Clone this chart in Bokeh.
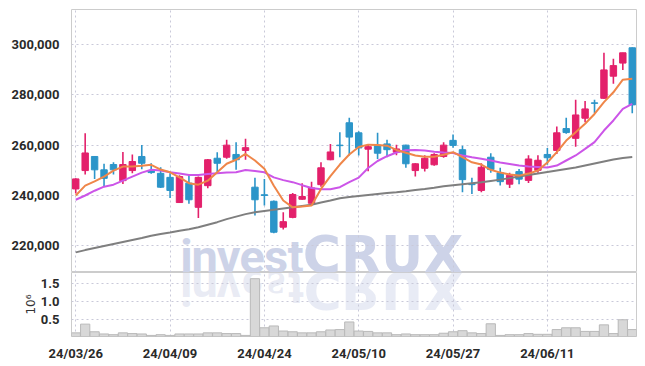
import math
from bokeh.plotting import figure
from bokeh.layouts import column
from bokeh.models import ColumnDataSource, FixedTicker, Range1d, NumeralTickFormatter
from bokeh.core.properties import value
from bokeh.embed import file_html
from bokeh.resources import INLINE

dates = ["24/03/26", "24/03/27", "24/03/28", "24/03/29", "24/04/01", "24/04/02", "24/04/03", "24/04/04",
         "24/04/05", "24/04/08", "24/04/09", "24/04/11", "24/04/12", "24/04/15", "24/04/16", "24/04/17",
         "24/04/18", "24/04/19", "24/04/22", "24/04/23", "24/04/24", "24/04/25", "24/04/26", "24/04/29",
         "24/04/30", "24/05/02", "24/05/03", "24/05/07", "24/05/08", "24/05/09", "24/05/10", "24/05/13",
         "24/05/14", "24/05/16", "24/05/17", "24/05/20", "24/05/21", "24/05/22", "24/05/23", "24/05/24",
         "24/05/27", "24/05/28", "24/05/29", "24/05/30", "24/05/31", "24/06/03", "24/06/04", "24/06/05",
         "24/06/07", "24/06/10", "24/06/11", "24/06/12", "24/06/13", "24/06/14", "24/06/17", "24/06/18",
         "24/06/19", "24/06/20", "24/06/21", "24/06/24"]

opens = [242600, 249900, 255500, 250200, 252300, 245900, 249900, 255500, 249900, 248800,
         247200, 237200, 244900, 235300, 243900, 254800, 255200, 256300, 257900, 243300,
         240300, 237700, 227400, 231300, 238500, 236900, 244300, 254200, 260000, 268900,
         264900, 258400, 260000, 260500, 257200, 260000, 249900, 250800, 252200, 255500,
         261900, 258200, 244500, 242000, 255200, 249000, 244500, 249500, 246000, 250000,
         256300, 257900, 266600, 262700, 270700, 276800, 278600, 287400, 292600, 298700]
highs = [246800, 264700, 255600, 252600, 253200, 257300, 256300, 260100, 252800, 251200,
         248800, 248000, 248200, 247500, 254500, 257200, 262100, 261200, 262500, 247000,
         246600, 238000, 233300, 241000, 244900, 245500, 253200, 260500, 265100, 270900,
         265500, 260200, 264900, 262100, 260200, 260200, 252800, 256000, 256800, 261200,
         264200, 259800, 247000, 252800, 256800, 251000, 249000, 250500, 256000, 256000,
         258900, 267400, 270900, 278000, 277500, 278000, 296700, 294300, 296700, 298800]
lows = [240800, 248300, 246600, 243500, 248300, 244600, 248800, 250400, 248600, 243000,
        239000, 237000, 236700, 231100, 242900, 248800, 254600, 250200, 254200, 232000,
        236000, 225000, 226500, 231000, 238300, 236700, 243500, 254000, 255200, 255900,
        255900, 249600, 254500, 255200, 256000, 251000, 247500, 249500, 251800, 255000,
        259000, 241300, 240600, 241300, 249000, 244000, 243000, 244500, 245000, 249000,
        252200, 256500, 264500, 259400, 269100, 272700, 278400, 284400, 289900, 272700]
closes = [246600, 256900, 250200, 246800, 250200, 252300, 253500, 252800, 249100, 243300,
          242000, 247500, 238300, 247200, 254200, 252800, 260000, 254200, 259000, 238300,
          240000, 225400, 229600, 240400, 239600, 243000, 251000, 257300, 259800, 263200,
          258900, 259400, 256800, 258200, 258500, 252600, 252600, 254800, 256300, 260000,
          259900, 246300, 244300, 251200, 250300, 245500, 248000, 246500, 254500, 254000,
          255000, 264900, 265000, 272000, 274400, 276600, 289900, 291600, 296700, 276000]
volumes = [0.14, 0.38, 0.17, 0.11, 0.09, 0.14, 0.12, 0.11, 0.07, 0.09,
           0.07, 0.11, 0.11, 0.11, 0.14, 0.14, 0.12, 0.12, 0.07, 1.63,
           0.28, 0.33, 0.19, 0.17, 0.14, 0.14, 0.17, 0.22, 0.23, 0.44,
           0.19, 0.18, 0.14, 0.14, 0.09, 0.11, 0.09, 0.09, 0.09, 0.13,
           0.17, 0.20, 0.14, 0.12, 0.39, 0.07, 0.09, 0.09, 0.12, 0.10,
           0.10, 0.23, 0.28, 0.28, 0.18, 0.18, 0.36, 0.12, 0.50, 0.23]
ma5 = [240000, 243900, 245600, 247500, 249900, 251500, 251500, 251800, 252200, 250300,
       249200, 247200, 244900, 244300, 245900, 249200, 252600, 254200, 256500, 253900,
       250600, 243900, 238000, 235300, 235600, 236000, 242600, 247700, 252300, 256300,
       259300, 260200, 260100, 259800, 258100, 257000, 255900, 255400, 255400, 256200,
       257200, 255200, 253200, 252300, 250200, 249100, 248300, 247900, 248700, 249900,
       253100, 257200, 261800, 265100, 268500, 272400, 277100, 281000, 286000, 286400]
ma20 = [238300, 240000, 241900, 243500, 244300, 245900, 247500, 249100, 250200, 249900,
        249200, 248700, 248100, 248100, 248500, 248800, 249100, 249200, 250100, 249700,
        249200, 247200, 246100, 245300, 244100, 243000, 242500, 242500, 243300, 245300,
        247100, 250900, 253700, 255600, 257100, 258000, 258100, 257900, 257400, 257100,
        256900, 255900, 255200, 254600, 253900, 253100, 252500, 251900, 251500, 251300,
        251100, 251900, 253900, 255900, 258500, 261200, 265800, 269800, 274400, 276400]
ma60 = [217400, 218300, 219100, 219900, 220700, 221500, 222300, 223100, 224000, 224700,
        225300, 226000, 226600, 227400, 228400, 229400, 230600, 231600, 232600, 233300,
        233800, 234300, 234800, 235300, 235800, 236300, 237200, 238000, 238900, 239400,
        239800, 240200, 240600, 241000, 241300, 241700, 242200, 242600, 243100, 243700,
        244100, 244500, 244900, 245300, 245800, 246300, 246900, 247500, 248100, 248700,
        249300, 249900, 250500, 251100, 251900, 252700, 253500, 254300, 254900, 255300]
price_ticks = [220000, 240000, 260000, 280000, 300000]
volume_ticks = [0.5, 1.0, 1.5]
watermark_letters = ["i", "n", "v", "e", "s", "t", "C", "R", "U", "X"]
watermark_mirror = ["i", "n", "v", "\u0258", "\u01a8", "t", "\u0186", "\u042f", "U", "X"]

UP = "#e3206b"
DOWN = "#2c95c9"
GRID = "#c9c9d9"
FONT = "Roboto"
WM = "#cdd3e8"

n = len(dates)
idx = list(range(n))
colors = [UP if c >= o else DOWN for o, c in zip(opens, closes)]
src = ColumnDataSource(dict(
    x=idx, o=opens, h=highs, l=lows, c=closes,
    top=[max(o, c) for o, c in zip(opens, closes)],
    bot=[min(o, c) for o, c in zip(opens, closes)],
    col=colors, vol=volumes, ma5=ma5, ma20=ma20, ma60=ma60))

date_ticks = idx[::10]
xr = Range1d(-0.45, n - 0.55)
PY0, PY1 = 209400, 313900
PRICE_FRAME_H = 263
VY0, VY1 = 0.04, 1.80
VOL_FRAME_H = 65

p = figure(width=637, height=272, x_range=xr, y_range=Range1d(PY0, PY1),
           output_backend="svg", toolbar_location=None,
           min_border_left=71, min_border_right=1, min_border_top=9, min_border_bottom=0)
p.xaxis.visible = False
p.outline_line_color = "#cccccc"
p.yaxis.ticker = FixedTicker(ticks=price_ticks)
p.yaxis.formatter = NumeralTickFormatter(format="0,0")
p.yaxis.axis_line_color = None
p.yaxis.major_tick_line_color = None
p.yaxis.minor_tick_line_color = None
p.yaxis.major_label_standoff = 6
p.yaxis.major_label_text_font = FONT
p.yaxis.major_label_text_font_size = "13px"
p.yaxis.major_label_text_font_style = "bold"
p.yaxis.major_label_text_color = "#2a2a2a"
p.xgrid.ticker = FixedTicker(ticks=date_ticks)
for g in (p.xgrid, p.ygrid):
    g.grid_line_color = GRID
    g.grid_line_dash = "2 3"
    g.grid_line_width = 1

# watermark (letters laid out at the logo's letter centres)
px_per_unit = 9.43
wm_centers_px = [185.6, 203.9, 227.9, 251.4, 275.4, 294.8, 321.1, 360.2, 401.3, 442.5]
wm_x = [(cx - 75) / px_per_unit for cx in wm_centers_px]
wm_fonts = ["Roboto"] * 6 + ["DejaVu Sans"] * 4
wm_sizes = [47] * 6 + [52] * 4
price_per_px = (PY1 - PY0) / PRICE_FRAME_H
vol_per_px = (VY1 - VY0) / VOL_FRAME_H
for k in range(len(watermark_letters)):
    off = 0.345 * wm_sizes[k]
    p.text(x=[wm_x[k]], y=[PY0 + off * price_per_px], text=[watermark_letters[k]],
           text_align="center", text_baseline="middle", text_font=value(wm_fonts[k]),
           text_font_style="bold", text_font_size=f"{wm_sizes[k]}px", text_color=WM,
           level="image")

p.segment(x0="x", y0="h", x1="x", y1="l", color="col", line_width=1.6, source=src)
p.vbar(x="x", top="top", bottom="bot", width=0.68, fill_color="col", line_color="col",
       line_width=1, source=src)
p.line("x", "ma60", color="#7f7f7f", line_width=2, source=src)
p.line("x", "ma20", color="#cc55e8", line_width=2, source=src)
p.line("x", "ma5", color="#ef8649", line_width=2, source=src)

v = figure(width=637, height=91, x_range=xr, y_range=Range1d(VY0, VY1),
           output_backend="svg", toolbar_location=None,
           min_border_left=71, min_border_right=1, min_border_top=0, min_border_bottom=26)
v.outline_line_color = "#cccccc"
for k in range(len(watermark_letters)):
    off = 0.345 * wm_sizes[k]
    v.text(x=[wm_x[k]], y=[VY1 - off * vol_per_px], text=[watermark_mirror[k]],
           text_align="center", text_baseline="middle", angle=math.pi,
           text_font=value(wm_fonts[k]), text_font_style="bold",
           text_font_size=f"{wm_sizes[k]}px", text_color=WM, text_alpha=0.45, level="image")
v.vbar(x="x", top="vol", bottom=0, width=0.98, fill_color="#d8d8d8", line_color="#b9b9b9",
       line_width=1, source=src)
v.yaxis.ticker = FixedTicker(ticks=volume_ticks)
v.yaxis.formatter = NumeralTickFormatter(format="0.0")
v.yaxis.axis_label = "10\u2076"
v.yaxis.axis_label_text_font = "DejaVu Sans"
v.yaxis.axis_label_text_font_style = "normal"
v.yaxis.axis_label_text_font_size = "12px"
v.yaxis.axis_label_text_color = "#333333"
v.yaxis.axis_label_standoff = 0
v.xaxis.ticker = FixedTicker(ticks=date_ticks)
v.xaxis.major_label_overrides = {i: dates[i] for i in date_ticks}
for ax in (v.xaxis, v.yaxis):
    ax.axis_line_color = None
    ax.major_tick_line_color = None
    ax.minor_tick_line_color = None
    ax.major_label_text_font = FONT
    ax.major_label_text_font_size = "13px"
    ax.major_label_text_font_style = "bold"
    ax.major_label_text_color = "#2a2a2a"
v.yaxis.major_label_standoff = 6
v.xaxis.major_label_standoff = 3
v.xgrid.ticker = FixedTicker(ticks=date_ticks)
for g in (v.xgrid, v.ygrid):
    g.grid_line_color = GRID
    g.grid_line_dash = "2 3"

layout = column(p, v, spacing=0)
open("out.html", "w").write(file_html(layout, INLINE))
